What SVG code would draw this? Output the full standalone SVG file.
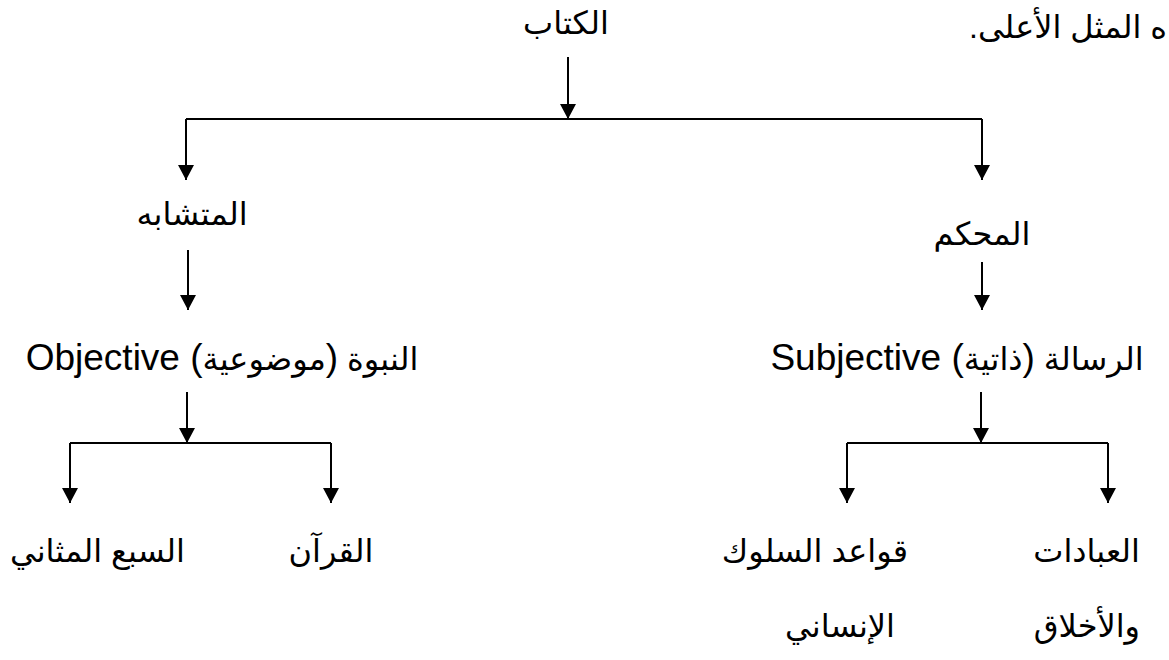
<svg xmlns="http://www.w3.org/2000/svg" width="1169" height="660" viewBox="0 0 1169 660">
<style>
text{font-family:"Liberation Sans","DejaVu Sans",sans-serif;font-size:32px;fill:#000}
.ar{direction:rtl;unicode-bidi:embed}
.lat{font-size:37px}
.c{stroke:#000;stroke-width:2;fill:none}
.a{marker-end:url(#ah)}
</style>
<defs>
<marker id="ah" markerUnits="userSpaceOnUse" markerWidth="16" markerHeight="16" refX="15" refY="8" orient="auto" viewBox="0 0 16 16">
<path d="M0,0 L15,8 L0,16 z" fill="#000"/>
</marker>
</defs>
<rect width="1169" height="660" fill="#fff"/>
<g id="note"><text class="ar" x="1167" y="38" text-anchor="start">ه المثل الأعلى.</text></g>
<g id="n-kitab"><text class="ar" x="566" y="34" text-anchor="middle">الكتاب</text></g>
<g id="n-mutashabih"><text class="ar" x="192" y="225" text-anchor="middle">المتشابه</text></g>
<g id="n-muhkam"><text class="ar" x="982" y="245" text-anchor="middle">المحكم</text></g>
<g id="n-nubuwwa"><text class="ar" x="222" y="370" text-anchor="middle">النبوة <tspan class="lat">(</tspan>موضوعية<tspan class="lat">) Objective</tspan></text></g>
<g id="n-risala"><text class="ar" x="957" y="370" text-anchor="middle">الرسالة <tspan class="lat">(</tspan>ذاتية<tspan class="lat">) Subjective</tspan></text></g>
<g id="n-sab"><text class="ar" x="10" y="562" text-anchor="end">السبع المثاني</text></g>
<g id="n-quran"><text class="ar" x="331" y="562" text-anchor="middle">القرآن</text></g>
<g id="n-qawaid"><text class="ar" x="908" y="562" text-anchor="start">قواعد السلوك</text><text class="ar" x="895" y="637" text-anchor="start">الإنساني</text></g>
<g id="n-ibadat"><text class="ar" x="1140" y="562" text-anchor="start">العبادات</text><text class="ar" x="1140" y="637" text-anchor="start">والأخلاق</text></g>
<g id="connectors">
<path class="c a" d="M568,57 V119"/>
<path class="c" d="M186,119 H982"/>
<path class="c a" d="M186,119 V180"/>
<path class="c a" d="M982,119 V180"/>
<path class="c a" d="M188,250 V310"/>
<path class="c a" d="M982,262 V310"/>
<path class="c a" d="M187,392 V443"/>
<path class="c" d="M70,443 H331"/>
<path class="c a" d="M70,443 V503"/>
<path class="c a" d="M331,443 V503"/>
<path class="c a" d="M981,392 V443"/>
<path class="c" d="M847,443 H1108"/>
<path class="c a" d="M847,443 V503"/>
<path class="c a" d="M1108,443 V503"/>
</g>
</svg>
